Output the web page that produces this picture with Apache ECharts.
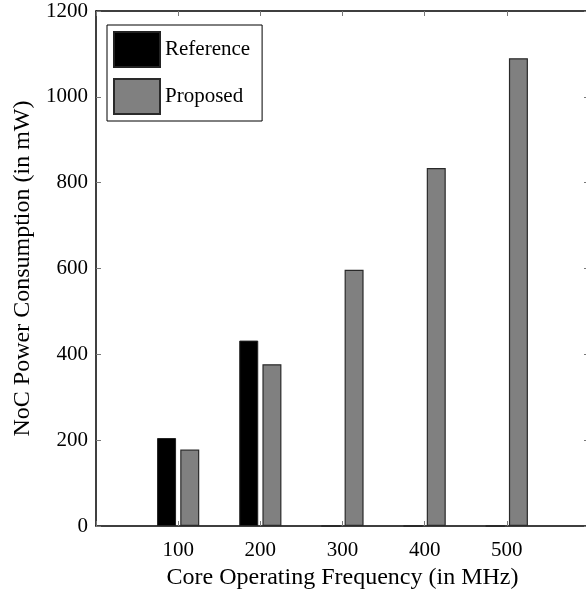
<!DOCTYPE html>
<html>
<head>
<meta charset="utf-8">
<script src="https://cdn.jsdelivr.net/npm/echarts@6/dist/echarts.min.js"></script>
<style>html,body{margin:0;padding:0;background:#fff}#c{width:586px;height:593px}</style>
</head>
<body>
<div id="c"></div>
<script>
var frequencies = [100, 200, 300, 400, 500];
var referencePower = [205, 432, 0, 0, 0];
var proposedPower = [178, 377, 597, 834, 1090];
var seriesNames = ['Reference', 'Proposed'];
var xTitle = 'Core Operating Frequency (in MHz)';
var yTitle = 'NoC Power Consumption (in mW)';

var font = 'Liberation Serif';
function pairs(vals) { return frequencies.map(function (f, i) { return [f, vals[i]]; }); }
function tick() { return { show: true, inside: true, length: 5, lineStyle: { color: '#777', width: 1 } }; }

var chart = echarts.init(document.getElementById('c'), null, { renderer: 'canvas' });
chart.setOption({
  animation: false,
  backgroundColor: '#fff',
  textStyle: { fontFamily: font },
  grid: { left: 96, top: 11, width: 493, height: 515, containLabel: false, outerBoundsMode: 'none', show: false },
  legend: {
    orient: 'vertical', left: 107, top: 25,
    icon: 'rect',
    itemWidth: 46, itemHeight: 35, itemGap: 10,
    padding: [6, 12, 6, 6],
    borderColor: '#000', borderWidth: 1, backgroundColor: '#fff', borderRadius: 0,
    textStyle: { fontFamily: font, fontSize: 21, color: '#000' },
    data: seriesNames
  },
  xAxis: [{
    type: 'value', gridIndex: 0, min: 0, max: 600, interval: 100, position: 'bottom',
    name: xTitle, nameLocation: 'middle', nameGap: 40,
    nameTextStyle: { fontFamily: font, fontSize: 24, color: '#000' },
    axisLine: { show: true, onZero: false, lineStyle: { color: '#000', width: 1.5 } },
    axisTick: tick(),
    axisLabel: { fontFamily: font, fontSize: 21, color: '#000', margin: 14,
      formatter: function (v) { return (v === 0 || v === 600) ? '' : String(v); } },
    splitLine: { show: false }
  }, {
    type: 'value', gridIndex: 0, min: 0, max: 600, interval: 100, position: 'top',
    axisLine: { show: true, onZero: false, lineStyle: { color: '#000', width: 1.5 } },
    axisTick: tick(),
    axisLabel: { show: true, formatter: function () { return ''; } },
    splitLine: { show: false }
  }],
  yAxis: [{
    type: 'value', gridIndex: 0, min: 0, max: 1200, interval: 200, position: 'left',
    name: yTitle, nameLocation: 'middle', nameGap: 59,
    nameTextStyle: { fontFamily: font, fontSize: 24, color: '#000' },
    axisLine: { show: true, onZero: false, lineStyle: { color: '#000', width: 1.5 } },
    axisTick: tick(),
    axisLabel: { fontFamily: font, fontSize: 21, color: '#000', margin: 8,
      formatter: function (v) { return String(v); } },
    splitLine: { show: false }
  }, {
    type: 'value', gridIndex: 0, min: 0, max: 1200, interval: 200, position: 'right',
    axisLine: { show: false, onZero: false },
    axisTick: tick(),
    axisLabel: { show: true, formatter: function () { return ''; } },
    splitLine: { show: false }
  }],
  series: [{
    name: seriesNames[0], type: 'bar', xAxisIndex: 0, yAxisIndex: 0, data: pairs(referencePower),
    barWidth: 19, barGap: '22%',
    itemStyle: { color: '#000', borderColor: '#222', borderWidth: 1 }
  }, {
    name: seriesNames[1], type: 'bar', xAxisIndex: 0, yAxisIndex: 0, data: pairs(proposedPower),
    barWidth: 19,
    itemStyle: { color: '#808080', borderColor: '#2a2a2a', borderWidth: 1.2 }
  }]
});
</script>
</body>
</html>
